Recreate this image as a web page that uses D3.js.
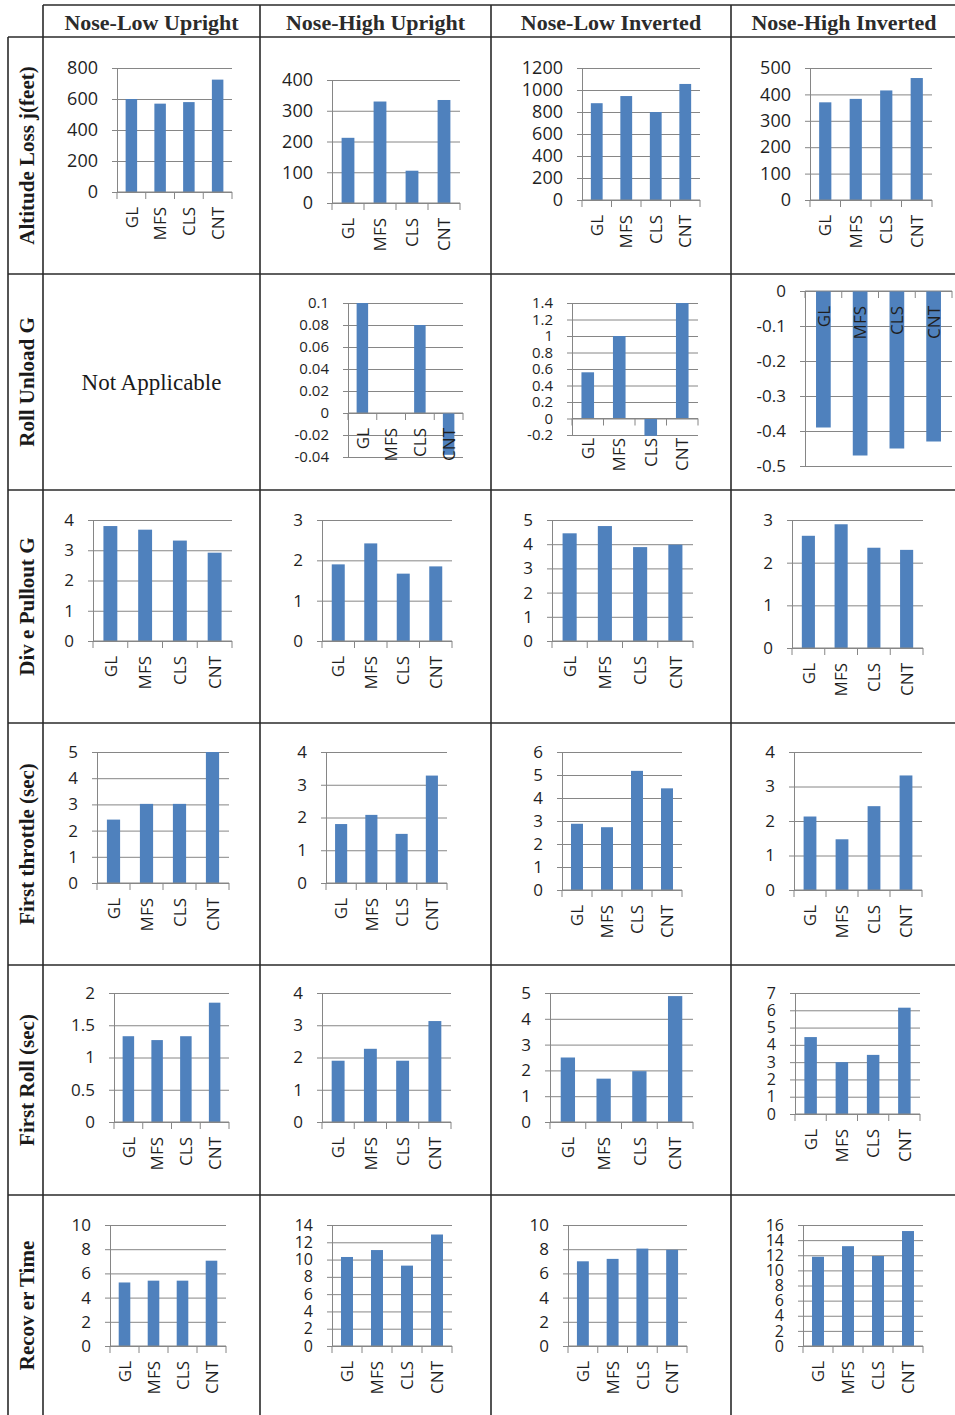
<!DOCTYPE html>
<html>
<head>
<meta charset="utf-8">
<script src="https://cdn.jsdelivr.net/npm/d3@7"></script>
<style>
  body { margin: 0; background: #fff; }
  svg { display: block; }
</style>
</head>
<body>
<svg id="chart"></svg>
<script>
// data
const categories = ['GL', 'MFS', 'CLS', 'CNT'];
const conditions = ['Nose-Low Upright', 'Nose-High Upright', 'Nose-Low Inverted', 'Nose-High Inverted'];
const measures = ['Altitude Loss j(feet)', 'Roll Unload G', 'Div e Pullout G', 'First throttle (sec)', 'First Roll (sec)', 'Recov er Time'];

const altitudeLoss = [[600, 570, 580, 725], [212, 330, 105, 335], [880, 945, 800, 1055], [370, 383, 415, 462]];
const altitudeTicks = [[0, 200, 400, 600, 800], [0, 100, 200, 300, 400], [0, 200, 400, 600, 800, 1000, 1200], [0, 100, 200, 300, 400, 500]];

const rollUnload = [null, [0.1, 0, 0.08, -0.038], [0.56, 1.0, -0.21, 1.4], [-0.39, -0.47, -0.45, -0.43]];
const rollUnloadTicks = [null,
    [-0.04, -0.02, 0, 0.02, 0.04, 0.06, 0.08, 0.1],
    [-0.2, 0, 0.2, 0.4, 0.6, 0.8, 1, 1.2, 1.4],
    [-0.5, -0.4, -0.3, -0.2, -0.1, 0]];

const divePullout = [[3.8, 3.68, 3.32, 2.92], [1.9, 2.42, 1.67, 1.85], [4.45, 4.75, 3.88, 3.98], [2.63, 2.9, 2.35, 2.3]];
const divePulloutTicks = [[0, 1, 2, 3, 4], [0, 1, 2, 3], [0, 1, 2, 3, 4, 5], [0, 1, 2, 3]];

const firstThrottle = [[2.42, 3.02, 3.02, 5.0], [1.8, 2.08, 1.5, 3.28], [2.88, 2.73, 5.18, 4.42], [2.13, 1.47, 2.43, 3.32]];
const firstThrottleTicks = [[0, 1, 2, 3, 4, 5], [0, 1, 2, 3, 4], [0, 1, 2, 3, 4, 5, 6], [0, 1, 2, 3, 4]];

const firstRoll = [[1.33, 1.27, 1.33, 1.85], [1.9, 2.27, 1.9, 3.13], [2.5, 1.68, 1.97, 4.88], [4.45, 3.0, 3.42, 6.15]];
const firstRollTicks = [[0, 0.5, 1, 1.5, 2], [0, 1, 2, 3, 4], [0, 1, 2, 3, 4, 5], [0, 1, 2, 3, 4, 5, 6, 7]];

const recoverTime = [[5.25, 5.4, 5.4, 7.05], [10.3, 11.1, 9.3, 12.9], [7.0, 7.2, 8.05, 7.95], [11.8, 13.2, 11.9, 15.2]];
const recoverTicks = [[0, 2, 4, 6, 8, 10], [0, 2, 4, 6, 8, 10, 12, 14], [0, 2, 4, 6, 8, 10], [0, 2, 4, 6, 8, 10, 12, 14, 16]];

const seriesByRow = [altitudeLoss, rollUnload, divePullout, firstThrottle, firstRoll, recoverTime];
const ticksByRow = [altitudeTicks, rollUnloadTicks, divePulloutTicks, firstThrottleTicks, firstRollTicks, recoverTicks];

// layout (page pixels)
const width = 955;
const height = 1415;
const colX = [8, 43, 260, 491, 731, 957];
const rowY = [5, 37, 274, 490, 723, 965, 1195, 1416];

// plot box of each small chart: [left, top, right, bottom]
const plots = [
    [[117, 68, 232, 192], [332, 80, 460, 203], [582, 68, 700, 200], [810, 68, 932, 200]],
    [null, [348, 303, 463, 457], [572, 303, 698, 435], [805, 291, 952, 466]],
    [[93, 520, 232, 641], [322, 520, 452, 641], [552, 520, 693, 641], [792, 520, 923, 648]],
    [[97, 752, 229, 883], [326, 752, 447, 883], [562, 752, 682, 890], [794, 752, 922, 890]],
    [[114, 993, 229, 1122], [322, 993, 451, 1122], [550, 993, 693, 1122], [795, 993, 920, 1114]],
    [[110, 1225, 226, 1346], [332, 1225, 452, 1346], [568, 1225, 687, 1346], [803, 1225, 923, 1346]]
];
const tickFont = [[18, 18, 18, 18], [15, 15, 15, 17], [17, 17, 17, 17], [17, 17, 17, 17], [17, 17, 17, 16], [17, 16, 17, 16]];

const barColor = '#4f81bd';
const gridColor = '#868686';
const sans = "'Open Sans', sans-serif";
const serif = "'Liberation Serif', 'Times New Roman', serif";

const svg = d3.select('svg#chart').attr('width', width).attr('height', height);
svg.append('rect').attr('width', width).attr('height', height).attr('fill', '#fff');

// small bar chart in one cell
function drawChart(g, values, ticks, box, fontSize, labelAtBottom) {
    const [left, top, right, bottom] = box;
    const y = d3.scaleLinear().domain(d3.extent(ticks)).range([bottom, top]);
    const x = d3.scaleBand().domain(categories).range([left, right])
        .paddingInner(0.6).paddingOuter(0.3);
    const step = (right - left) / categories.length;

    // gridlines
    g.append('g')
        .attr('transform', `translate(${left},0)`)
        .call(d3.axisLeft(y).tickValues(ticks).tickSize(-(right - left)).tickFormat(''))
        .call(a => a.select('.domain').remove())
        .call(a => a.selectAll('line').attr('stroke', gridColor));

    // y axis with labels
    g.append('g')
        .attr('transform', `translate(${left},0)`)
        .call(d3.axisLeft(y).tickValues(ticks).tickSizeInner(5).tickSizeOuter(0).tickPadding(14)
            .tickFormat(d => String(d)))
        .call(a => a.select('.domain').attr('stroke', gridColor))
        .call(a => a.selectAll('line').attr('stroke', gridColor))
        .call(a => a.selectAll('text')
            .attr('font-family', sans).attr('font-size', fontSize).attr('fill', '#1f1f1f'));

    // bars
    g.selectAll('rect.bar')
        .data(values)
        .enter().append('rect')
        .attr('class', 'bar')
        .attr('x', (d, i) => x(categories[i]))
        .attr('width', x.bandwidth())
        .attr('y', d => Math.min(y(d), y(0)))
        .attr('height', d => Math.abs(y(d) - y(0)))
        .attr('fill', barColor);

    // category axis at zero
    g.append('line')
        .attr('x1', left).attr('x2', right)
        .attr('y1', y(0)).attr('y2', y(0))
        .attr('stroke', gridColor);
    g.selectAll('line.xtick')
        .data(d3.range(categories.length + 1))
        .enter().append('line')
        .attr('class', 'xtick')
        .attr('x1', i => left + i * step).attr('x2', i => left + i * step)
        .attr('y1', y(0)).attr('y2', y(0) + 7)
        .attr('stroke', gridColor);

    const labelY = labelAtBottom ? bottom + 3 : y(0) + 15;
    g.selectAll('text.cat')
        .data(categories)
        .enter().append('text')
        .attr('class', 'cat')
        .attr('transform', d => `translate(${x(d) + x.bandwidth() / 2},${labelY}) rotate(-90)`)
        .attr('text-anchor', 'end')
        .attr('dy', '0.36em')
        .attr('font-family', sans)
        .attr('font-size', 17)
        .attr('fill', '#1f1f1f')
        .text(d => d);
}

// cells
seriesByRow.forEach((rowSeries, r) => {
    rowSeries.forEach((values, c) => {
        const cell = svg.append('g');
        if (values === null) {
            cell.append('text')
                .attr('x', (colX[c + 1] + colX[c + 2]) / 2)
                .attr('y', (rowY[r + 1] + rowY[r + 2]) / 2)
                .attr('text-anchor', 'middle')
                .attr('dominant-baseline', 'central')
                .attr('font-family', serif)
                .attr('font-size', 23)
                .attr('fill', '#1a1a1a')
                .text('Not Applicable');
            return;
        }
        const labelAtBottom = r === 1 && c === 2;
        drawChart(cell, values, ticksByRow[r][c], plots[r][c], tickFont[r][c], labelAtBottom);
    });
});

// table lines
const lines = svg.append('g').attr('stroke', '#2a2a2a').attr('stroke-width', 1.6);
lines.append('line').attr('x1', colX[1]).attr('x2', width).attr('y1', rowY[0]).attr('y2', rowY[0]);
lines.append('line').attr('x1', colX[1]).attr('x2', colX[1]).attr('y1', rowY[0]).attr('y2', height);
lines.append('line').attr('x1', colX[0]).attr('x2', colX[0]).attr('y1', rowY[1]).attr('y2', height);
rowY.slice(1, rowY.length - 1).forEach(yv => {
    lines.append('line').attr('x1', colX[0]).attr('x2', width).attr('y1', yv).attr('y2', yv);
});
colX.slice(2, colX.length - 1).forEach(xv => {
    lines.append('line').attr('x1', xv).attr('x2', xv).attr('y1', rowY[0]).attr('y2', height);
});

// column headers
svg.selectAll('text.colhead')
    .data(conditions)
    .enter().append('text')
    .attr('class', 'colhead')
    .attr('x', (d, i) => (colX[i + 1] + colX[i + 2]) / 2)
    .attr('y', (rowY[0] + rowY[1]) / 2 + 1)
    .attr('text-anchor', 'middle')
    .attr('dominant-baseline', 'central')
    .attr('font-family', serif)
    .attr('font-weight', 'bold')
    .attr('font-size', 22)
    .attr('fill', '#2b2b2b')
    .text(d => d);

// row headers
svg.selectAll('text.rowhead')
    .data(measures)
    .enter().append('text')
    .attr('class', 'rowhead')
    .attr('transform', (d, i) => `translate(${(colX[0] + colX[1]) / 2 + 1},${(rowY[i + 1] + rowY[i + 2]) / 2}) rotate(-90)`)
    .attr('text-anchor', 'middle')
    .attr('dominant-baseline', 'central')
    .attr('font-family', serif)
    .attr('font-weight', 'bold')
    .attr('font-size', 21)
    .attr('fill', '#1a1a1a')
    .text(d => d);
</script>
</body>
</html>
